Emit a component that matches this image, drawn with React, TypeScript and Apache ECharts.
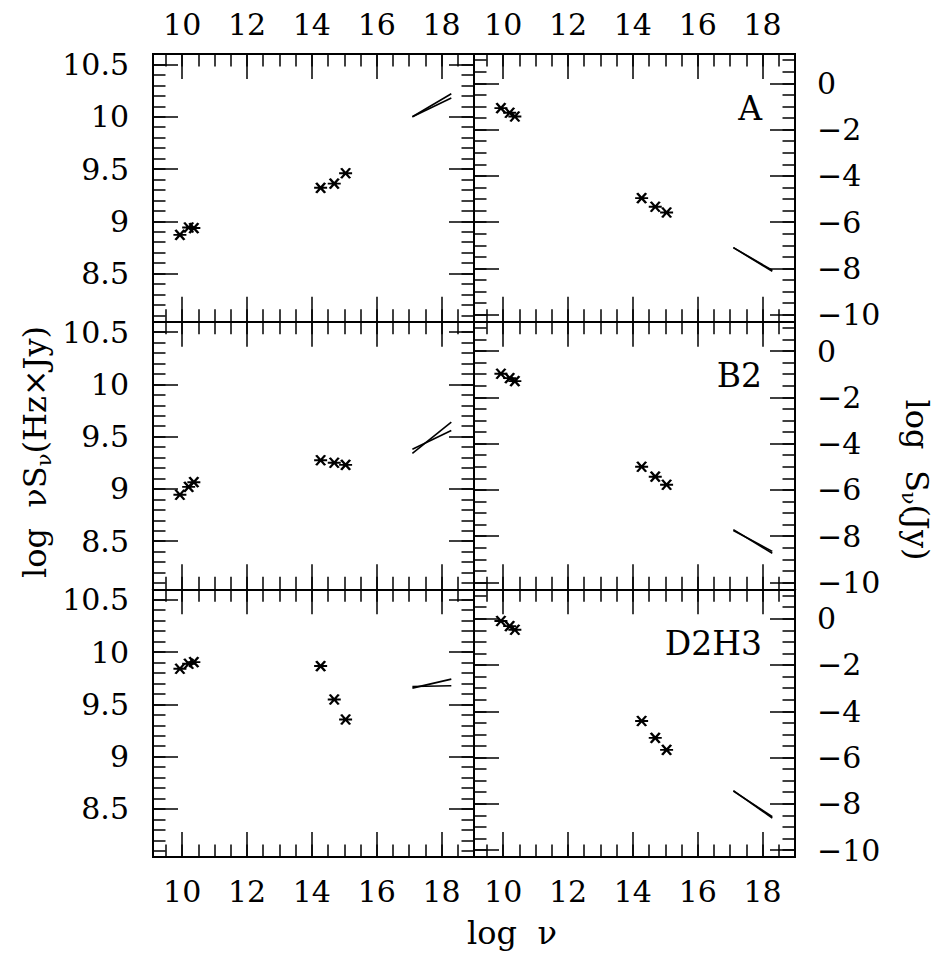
import React, { useEffect, useRef } from "react";
import * as echarts from "echarts";

// ---------- data ----------
const sources = ["A", "B2", "D2H3"];

const xTickValues = [10, 12, 14, 16, 18];
const leftTickValues = [8.5, 9, 9.5, 10, 10.5];
const rightTickValues = [0, -2, -4, -6, -8, -10];

const radioLogNu = [9.93, 10.2, 10.36];
const opticalLogNu = [14.27, 14.69, 15.04];
const xrayLogNu = [17.1, 18.3];

// log nu S_nu (Hz x Jy)
const A_radioNuSnu = [8.87, 8.94, 8.935];
const A_opticalNuSnu = [9.32, 9.36, 9.46];
const A_xrayNuSnu1 = [10.0, 10.22];
const A_xrayNuSnu2 = [10.0, 10.18];
const B2_radioNuSnu = [8.945, 9.02, 9.065];
const B2_opticalNuSnu = [9.275, 9.25, 9.23];
const B2_xrayNuSnu1 = [9.34, 9.64];
const B2_xrayNuSnu2 = [9.38, 9.56];
const D2H3_radioNuSnu = [9.84, 9.888, 9.904];
const D2H3_opticalNuSnu = [9.866, 9.547, 9.355];
const D2H3_xrayNuSnu1 = [9.655, 9.741];
const D2H3_xrayNuSnu2 = [9.671, 9.678];

// log S_nu (Jy)
const A_radioSnu = [-1.07, -1.27, -1.43];
const A_opticalSnu = [-4.96, -5.33, -5.58];
const A_xraySnu1 = [-7.1, -8.08];
const A_xraySnu2 = [-7.1, -8.12];
const B2_radioSnu = [-0.98, -1.17, -1.3];
const B2_opticalSnu = [-5.0, -5.43, -5.78];
const B2_xraySnu1 = [-7.76, -8.66];
const B2_xraySnu2 = [-7.72, -8.74];
const D2H3_radioSnu = [-0.1, -0.32, -0.48];
const D2H3_opticalSnu = [-4.42, -5.15, -5.67];
const D2H3_xraySnu1 = [-7.45, -8.56];
const D2H3_xraySnu2 = [-7.43, -8.62];

const nuSnuData = [
  { radio: A_radioNuSnu, optical: A_opticalNuSnu, xray1: A_xrayNuSnu1, xray2: A_xrayNuSnu2 },
  { radio: B2_radioNuSnu, optical: B2_opticalNuSnu, xray1: B2_xrayNuSnu1, xray2: B2_xrayNuSnu2 },
  { radio: D2H3_radioNuSnu, optical: D2H3_opticalNuSnu, xray1: D2H3_xrayNuSnu1, xray2: D2H3_xrayNuSnu2 },
];
const snuData = [
  { radio: A_radioSnu, optical: A_opticalSnu, xray1: A_xraySnu1, xray2: A_xraySnu2 },
  { radio: B2_radioSnu, optical: B2_opticalSnu, xray1: B2_xraySnu1, xray2: B2_xraySnu2 },
  { radio: D2H3_radioSnu, optical: D2H3_opticalSnu, xray1: D2H3_xraySnu1, xray2: D2H3_xraySnu2 },
];

// ---------- layout / style ----------
const X_MIN = 9.1;
const X_MAX = 19;
const LEFT_Y = { min: 8.04, max: 10.6, major: 0.5, minor: 0.1, ticks: leftTickValues };
const RIGHT_Y = { min: -10.3, max: 1.27, major: 2, minor: 0.5, ticks: rightTickValues };

const LEFT = 153;
const MID = 474;
const RIGHT = 795;
const TOP = 54;
const BOTTOM = 857;
const ROW_H = (BOTTOM - TOP) / 3;

const FONT = "DejaVu Serif";
const ASTERISK = "path://M0,5L13,5M2,0.5L11,9.5M2,9.5L11,0.5";

const fmtNum = (v: number) => {
  const r = Math.round(v * 1000) / 1000;
  return r < 0 ? "\u2212" + String(-r) : String(r);
};
const makeFormatter = (ticks: number[]) => (v: number) =>
  ticks.some((t) => Math.abs(t - v) < 1e-6) ? fmtNum(v) : "";

const lineCol = "#000";
const axisLine = { show: true, onZero: false, lineStyle: { color: lineCol, width: 2 } };
const tickStyle = { color: lineCol, width: 1.5 };
const labelBase = { fontFamily: FONT, fontSize: 30, color: "#000", hideOverlap: false, showMinLabel: true, showMaxLabel: true };

function buildOption() {
  const grids: any[] = [];
  const xAxes: any[] = [];
  const yAxes: any[] = [];
  const series: any[] = [];
  const graphics: any[] = [];

  for (let row = 0; row < 3; row++) {
    for (let col = 0; col < 2; col++) {
      const g = row * 2 + col;
      const top = TOP + row * ROW_H;
      grids.push({
        left: col === 0 ? LEFT : MID,
        top,
        width: col === 0 ? MID - LEFT : RIGHT - MID,
        height: ROW_H,
        containLabel: false,
        outerBoundsMode: "none",
      });

      const xBase = {
        type: "value",
        gridIndex: g,
        min: X_MIN,
        max: X_MAX,
        splitNumber: 5,
        splitLine: { show: false },
        axisLine,
      };
      const xMajor = (position: string, showLabel: boolean, margin: number) => ({
        ...xBase,
        position,
        minInterval: 2,
        maxInterval: 2,
        axisTick: { show: true, inside: true, length: 25, lineStyle: tickStyle },
        axisLabel: showLabel
          ? { ...labelBase, show: true, margin, formatter: makeFormatter(xTickValues) }
          : { show: false },
      });
      const xMinor = (position: string) => ({
        ...xBase,
        position,
        minInterval: 0.5,
        maxInterval: 0.5,
        axisTick: { show: true, inside: true, length: 12.5, lineStyle: tickStyle },
        axisLabel: { show: false },
      });
      const xStart = xAxes.length;
      xAxes.push(xMajor("bottom", row === 2, 19));
      xAxes.push(xMinor("bottom"));
      xAxes.push(xMajor("top", row === 0, 15));
      xAxes.push(xMinor("top"));

      const ys = col === 0 ? LEFT_Y : RIGHT_Y;
      const yBase = {
        type: "value",
        gridIndex: g,
        min: ys.min,
        max: ys.max,
        splitNumber: 5,
        splitLine: { show: false },
        axisLine,
      };
      const yMajor = (position: string, showLabel: boolean, margin: number) => ({
        ...yBase,
        position,
        minInterval: ys.major,
        maxInterval: ys.major,
        axisTick: { show: true, inside: true, length: 25, lineStyle: tickStyle },
        axisLabel: showLabel
          ? { ...labelBase, show: true, margin, formatter: makeFormatter(ys.ticks) }
          : { show: false },
      });
      const yMinor = (position: string) => ({
        ...yBase,
        position,
        minInterval: ys.minor,
        maxInterval: ys.minor,
        axisTick: { show: true, inside: true, length: 12.5, lineStyle: tickStyle },
        axisLabel: { show: false },
      });
      const yStart = yAxes.length;
      yAxes.push(yMajor("left", col === 0, 24));
      yAxes.push(yMinor("left"));
      yAxes.push(yMajor("right", col === 1, 22));
      yAxes.push(yMinor("right"));

      const d = col === 0 ? nuSnuData[row] : snuData[row];
      const scatterCommon = {
        type: "scatter",
        xAxisIndex: xStart,
        yAxisIndex: yStart,
        symbol: ASTERISK,
        symbolSize: [13, 10],
        itemStyle: { color: "#000", borderColor: "#000", borderWidth: 2.2, opacity: 1 },
        silent: true,
      };
      series.push({ ...scatterCommon, name: `radio-${g}`, data: radioLogNu.map((x, i) => [x, d.radio[i]]) });
      series.push({ ...scatterCommon, name: `optical-${g}`, data: opticalLogNu.map((x, i) => [x, d.optical[i]]) });
      const lineCommon = {
        type: "line",
        xAxisIndex: xStart,
        yAxisIndex: yStart,
        symbol: "none",
        showSymbol: false,
        silent: true,
        lineStyle: { color: "#000", width: 1.6 },
      };
      series.push({ ...lineCommon, name: `xray1-${g}`, data: xrayLogNu.map((x, i) => [x, d.xray1[i]]) });
      series.push({ ...lineCommon, name: `xray2-${g}`, data: xrayLogNu.map((x, i) => [x, d.xray2[i]]) });

      if (col === 1) {
        graphics.push({
          type: "text",
          x: 762,
          y: top + 54,
          style: {
            text: sources[row],
            fontFamily: FONT,
            fontSize: 33,
            fill: "#000",
            align: "right",
            verticalAlign: "middle",
          },
        });
      }
    }
  }

  const rich = {
    m: { fontFamily: FONT, fontSize: 32, lineHeight: 38, fill: "#000", color: "#000" },
    s: { fontFamily: FONT, fontSize: 21, lineHeight: 21, verticalAlign: "bottom", fill: "#000", color: "#000" },
  };
  graphics.push({
    type: "text",
    x: 35,
    y: 452,
    rotation: Math.PI / 2,
    style: {
      text: "{m|log  \u03bd}{m|S}{s|\u03bd}{m|(Hz\u00d7Jy)}",
      rich,
      fill: "#000",
      align: "center",
      verticalAlign: "middle",
    },
  });
  graphics.push({
    type: "text",
    x: 917,
    y: 480,
    rotation: -Math.PI / 2,
    style: {
      text: "{m|log  S}{s|\u03bd}{m|(Jy)}",
      rich,
      fill: "#000",
      align: "center",
      verticalAlign: "middle",
    },
  });
  graphics.push({
    type: "text",
    x: 512,
    y: 933,
    style: {
      text: "log  \u03bd",
      fontFamily: FONT,
      fontSize: 32,
      fill: "#000",
      align: "center",
      verticalAlign: "middle",
    },
  });

  return {
    animation: false,
    backgroundColor: "#fff",
    grid: grids,
    xAxis: xAxes,
    yAxis: yAxes,
    series,
    graphic: graphics,
  };
}

export default function App() {
  const ref = useRef<HTMLDivElement>(null);
  useEffect(() => {
    if (!ref.current) return;
    const chart = echarts.init(ref.current, undefined, { renderer: "svg" });
    chart.setOption(buildOption() as any);
    return () => chart.dispose();
  }, []);
  return (
    <div
      ref={ref}
      style={{ position: "absolute", left: 0, top: 0, width: 949, height: 959, background: "#fff" }}
    />
  );
}
